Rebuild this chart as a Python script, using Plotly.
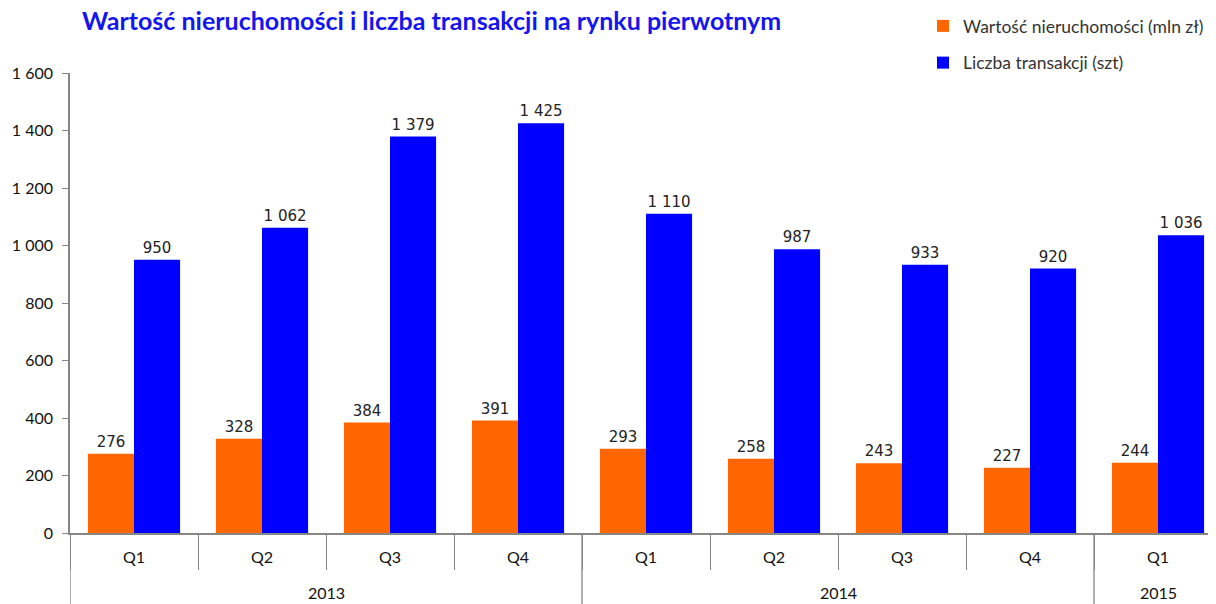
import plotly.graph_objects as go

years = ["2013", "2013", "2013", "2013", "2014", "2014", "2014", "2014", "2015"]
quarters = ["Q1", "Q2", "Q3", "Q4", "Q1", "Q2", "Q3", "Q4", "Q1"]
wartosc = [276, 328, 384, 391, 293, 258, 243, 227, 244]
liczba = [950, 1062, 1379, 1425, 1110, 987, 933, 920, 1036]
y_ticks = [0, 200, 400, 600, 800, 1000, 1200, 1400, 1600]

name_w = "Wartość nieruchomości (mln zł)"
name_l = "Liczba transakcji (szt)"
title = "Wartość nieruchomości i liczba transakcji na rynku pierwotnym"

ORANGE = "#FF6600"
BLUE = "#0000FF"
GRID = "#868686"
AXFONT = "Lato, 'Open Sans', sans-serif"
LBLFONT = "DejaVu Sans, Verdana, sans-serif"

idx = list(range(len(quarters)))

fig = go.Figure()
for vals, nm, col, grp in [(wartosc, name_w, ORANGE, "a"), (liczba, name_l, BLUE, "b")]:
    fig.add_trace(go.Bar(
        x=idx, y=vals, name=nm, marker=dict(color=col, line=dict(width=0)),
        texttemplate="%{y:,}", textposition="outside", cliponaxis=False,
        constraintext="none",
        textfont=dict(family=LBLFONT, size=15, color="#222222"),
        legendgroup=grp,
    ))

# The page body adds an 8px offset, so the figure is 8px smaller on each axis.
OFF = 8
W, H = 1216 - OFF, 604 - OFF
ML, MR, MT, MB = 70 - OFF, 0, 73 - OFF, 604 - 533
plot_w = W - ML - MR
plot_h = H - MT - MB
cat_px = 128.0
x_end = -0.5 + plot_w / cat_px

boundaries = [i - 0.5 for i in range(len(quarters) + 1)]

shapes = []
annotations = []
prev = None
for i, yr in enumerate(years):
    if yr != prev:
        shapes.append(dict(type="line", xref="x", yref="paper", x0=i - 0.5, x1=i - 0.5,
                           y0=0, y1=-MB / plot_h, line=dict(color=GRID, width=1.3)))
        prev = yr
for i, q in enumerate(quarters):
    annotations.append(dict(x=i, y=-23 / plot_h, xref="x", yref="paper", text=q, showarrow=False,
                            font=dict(family=AXFONT, size=16, color="#111111"),
                            xanchor="center", yanchor="middle"))
for yr in dict.fromkeys(years):
    pos = [i for i, v in enumerate(years) if v == yr]
    annotations.append(dict(x=sum(pos) / len(pos), y=-59 / plot_h, xref="x", yref="paper", text=yr,
                            showarrow=False, font=dict(family=AXFONT, size=16, color="#111111"),
                            xanchor="center", yanchor="middle"))

fig.update_layout(
    width=W, height=H,
    margin=dict(l=ML, r=MR, t=MT, b=MB, pad=0, autoexpand=False),
    paper_bgcolor="white", plot_bgcolor="white",
    separators=". ",
    barmode="group", bargap=0.28, bargroupgap=0,
    title=dict(text="<b>" + title + "</b>", x=(82 - OFF) / W, xanchor="left", xref="container",
               y=1 - 13 / H, yanchor="middle", yref="container",
               font=dict(family=AXFONT, size=25, color="#1515F0")),
    legend=dict(x=(923 - OFF) / W, xref="container", xanchor="left", y=1 + 17 / H, yref="container",
                yanchor="top", orientation="v", tracegroupgap=11,
                font=dict(family=AXFONT, size=17.5, color="#333333"), bgcolor="rgba(0,0,0,0)"),
    xaxis=dict(range=[-0.5, x_end], tickmode="array", tickvals=boundaries, showticklabels=False,
               ticks="outside", ticklen=35, tickcolor=GRID, tickwidth=1.3,
               showline=True, linecolor=GRID, linewidth=1.5, showgrid=False, zeroline=False,
               fixedrange=True),
    yaxis=dict(range=[0, 1600], tickmode="array", tickvals=y_ticks, tickformat=",",
               ticks="outside", ticklen=6, tickcolor=GRID, showline=True, linecolor=GRID,
               linewidth=1.5, showgrid=False, zeroline=False, ticklabelstandoff=6,
               tickfont=dict(family=AXFONT, size=16, color="#111111")),
    shapes=shapes, annotations=annotations,
    showlegend=True,
)

fig.write_html("out.html")
